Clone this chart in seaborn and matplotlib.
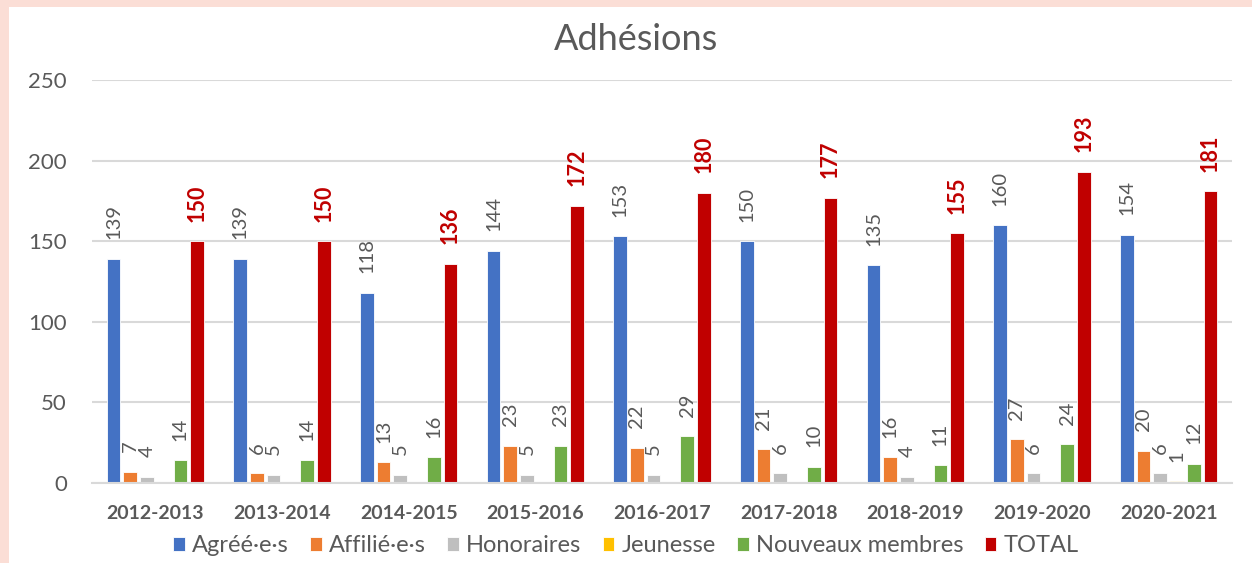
import matplotlib
matplotlib.use("Agg")
import matplotlib.pyplot as plt
import seaborn as sns
import pandas as pd
from matplotlib.patches import Rectangle

seasons = ["2012-2013", "2013-2014", "2014-2015", "2015-2016", "2016-2017",
           "2017-2018", "2018-2019", "2019-2020", "2020-2021"]
agrees = [139, 139, 118, 144, 153, 150, 135, 160, 154]
affilies = [7, 6, 13, 23, 22, 21, 16, 27, 20]
honoraires = [4, 5, 5, 5, 5, 6, 4, 6, 6]
jeunesse = [0, 0, 0, 0, 0, 0, 0, 0, 1]
nouveaux = [14, 14, 16, 23, 29, 10, 11, 24, 12]
total = [150, 150, 136, 172, 180, 177, 155, 193, 181]

series_names = ["Agréé·e·s", "Affilié·e·s", "Honoraires", "Jeunesse",
                "Nouveaux membres", "TOTAL"]
series_values = [agrees, affilies, honoraires, jeunesse, nouveaux, total]
colors = ["#4472C4", "#ED7D31", "#BFBFBF", "#FFC000", "#70AD47", "#C00000"]

sns.set_theme(style="white")
plt.rcParams['font.family'] = ['Lato', 'DejaVu Sans']

rows = []
for name, vals in zip(series_names, series_values):
    for s, v in zip(seasons, vals):
        rows.append({"Saison": s, "Valeur": v, "Série": name})
df = pd.DataFrame(rows)

W, H = 1252, 563
fig = plt.figure(figsize=(W / 100, H / 100), dpi=100, facecolor="#FBDED6")
fig.patches.append(Rectangle((9 / W, 0), 1, 1 - 7 / H, transform=fig.transFigure,
                             facecolor="white", edgecolor="none", zorder=-1))

ax = fig.add_axes([92 / W, 1 - 483 / H, (1232 - 92) / W, (483 - 80) / H])
ax.set_facecolor("white")
sns.barplot(data=df, x="Saison", y="Valeur", hue="Série", hue_order=series_names,
            order=seasons, palette=colors, width=0.79, gap=0.18, errorbar=None,
            ax=ax, edgecolor="white", linewidth=0.6, saturation=1)

grey = "#595959"
for i, cont in enumerate(ax.containers):
    vals = series_values[i]
    labels = [str(v) if v != 0 else "" for v in vals]
    if series_names[i] == "TOTAL":
        ax.bar_label(cont, labels=labels, rotation=90, padding=14,
                     color="#C00000", fontweight="bold", fontsize=15.5)
    else:
        ax.bar_label(cont, labels=labels, rotation=90, padding=14,
                     color=grey, fontsize=14.5)

ax.set_ylim(0, 250)
ax.set_yticks(range(0, 251, 50))
ax.set_xlim(-0.5, len(seasons) - 0.5)
ax.yaxis.grid(True, color="#D9D9D9", linewidth=1.5)
ax.set_axisbelow(True)
for sp in ["top", "right", "left"]:
    ax.spines[sp].set_visible(False)
ax.spines["bottom"].set_color("#D9D9D9")
ax.spines["bottom"].set_linewidth(1.5)
ax.set_xlabel("")
ax.set_ylabel("")
ax.tick_params(axis="y", length=0, pad=18, labelsize=16, labelcolor=grey)
ax.tick_params(axis="x", length=0, pad=16, labelsize=14, labelcolor=grey)
for t in ax.get_xticklabels():
    t.set_fontweight("bold")

handles, labels = ax.get_legend_handles_labels()
if ax.get_legend() is not None:
    ax.get_legend().remove()
fig.legend(handles, labels, loc="center", bbox_to_anchor=(0.5, 1 - 546 / H),
           ncol=6, frameon=False, prop={"size": 17},
           labelcolor=grey, handlelength=0.5, handleheight=0.5,
           handletextpad=0.3, columnspacing=0.9)

fig.text(636 / W, 1 - 40 / H, "Adhésions", ha="center", va="center",
         fontsize=26, color=grey)

fig.savefig("out.png", dpi=100, facecolor=fig.get_facecolor())
